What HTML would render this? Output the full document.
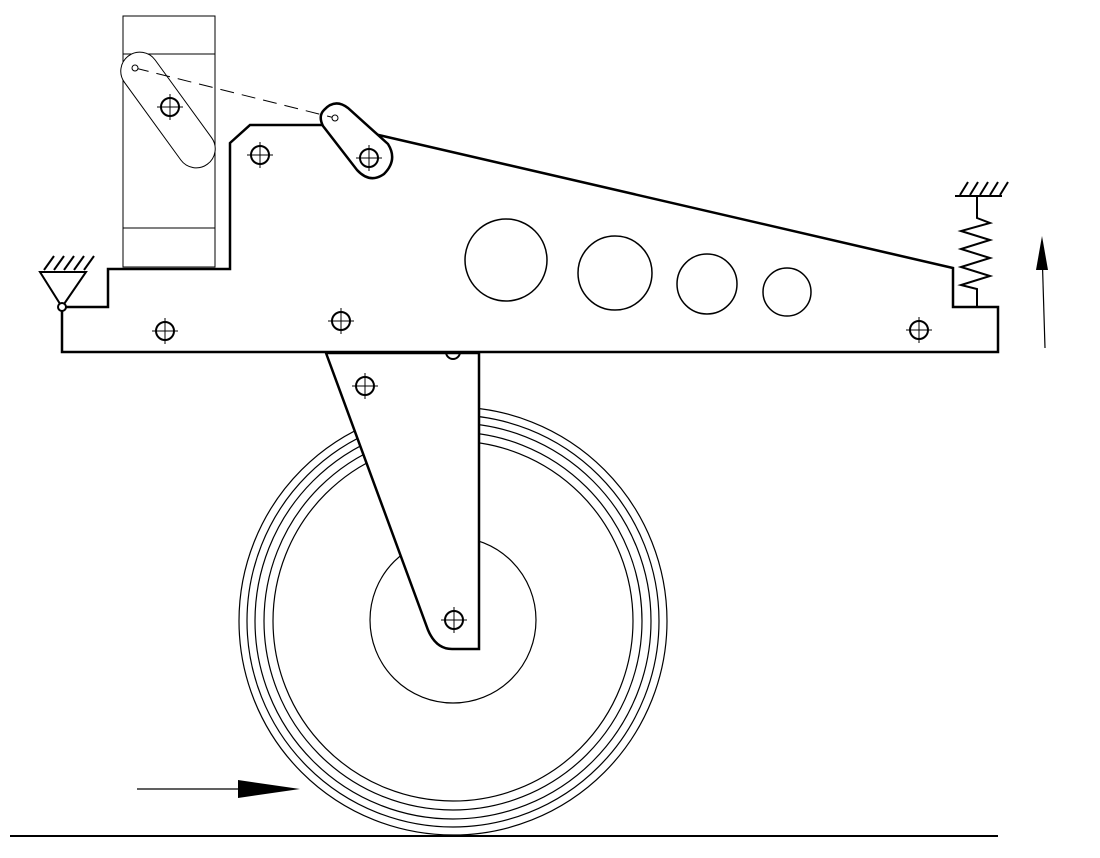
<!DOCTYPE html>
<html><head><style>body{margin:0;background:#fff}svg{display:block}</style></head><body>
<svg width="1100" height="858" viewBox="0 0 1100 858" xmlns="http://www.w3.org/2000/svg" fill="none" stroke="#000">
<defs>
<g id="h"><circle r="9" stroke-width="2"/><path d="M-13 0H13M0 -13V13" stroke-width="1"/></g>
</defs>
<g stroke-width="1.2">
<circle cx="453" cy="621" r="214"/>
<circle cx="453" cy="621" r="206"/>
<circle cx="453" cy="621" r="198"/>
<circle cx="453" cy="621" r="189"/>
<circle cx="453" cy="621" r="180"/>
<circle cx="453" cy="620" r="83"/>
</g>
<line x1="10" y1="836" x2="998" y2="836" stroke-width="2"/>
<path d="M326 353 L428 630 Q436 649 452 649 L479 649 L479 353 Z" fill="#fff" stroke-width="2.5"/>
<g stroke-width="1"><rect x="123" y="16" width="92" height="251"/><line x1="123" y1="54" x2="215" y2="54"/><line x1="123" y1="228" x2="215" y2="228"/></g>
<path d="M62 307 L62 352 L998 352 L998 307 L953 307 L953 268 L370 133 M322 125 L250 125 L230 143 L230 269 L108 269 L108 307 L62 307" stroke-width="2.5"/>
<g stroke-width="1.5">
<circle cx="506" cy="260" r="41"/><circle cx="615" cy="273" r="37"/><circle cx="707" cy="284" r="30"/><circle cx="787" cy="292" r="24"/>
</g>
<path d="M446 352 A7 7 0 0 0 460 352" stroke-width="2"/>
<rect x="101" y="91" width="134" height="38" rx="19" transform="rotate(54 168 110)" stroke-width="1" fill="#fff"/>
<path d="M324 110 Q335 98 348 108 L388 144 Q398 160 384 174 Q370 184 357 170 L323 126 Q318 116 324 110 Z" fill="#fff" stroke-width="2.5"/>
<line x1="135" y1="68" x2="335" y2="118" stroke-width="1" stroke-dasharray="14,8"/>
<circle cx="135" cy="68" r="3" fill="#fff" stroke-width="1"/>
<circle cx="335" cy="118" r="3" fill="#fff" stroke-width="1"/>
<use href="#h" x="165" y="331"/><use href="#h" x="341" y="321"/><use href="#h" x="919" y="330"/>
<use href="#h" x="260" y="155"/><use href="#h" x="369" y="158"/><use href="#h" x="365" y="386"/>
<use href="#h" x="454" y="620"/><use href="#h" x="170" y="107"/>
<g stroke-width="2">
<path d="M40 272 L86 272 L62 307 Z"/>
<path d="M44 270 L54 256 M54 270 L64 256 M64 270 L74 256 M74 270 L84 256 M84 270 L94 256"/>
<circle cx="62" cy="307" r="4" fill="#fff"/>
</g>
<g stroke-width="2">
<line x1="955" y1="196" x2="1002" y2="196"/>
<path d="M960 195 L968 182 M970 195 L978 182 M980 195 L988 182 M990 195 L998 182 M1000 195 L1008 182"/>
<path d="M977 196 L977 218 L990 223 L961 231 L990 240 L961 249 L990 258 L961 267 L990 276 L961 285 L977 289 L977 307"/>
</g>
<line x1="1045" y1="348" x2="1042" y2="250" stroke-width="1.2"/>
<path d="M1042 236 L1048 270 L1036 270 Z" fill="#000" stroke="none"/>
<line x1="137" y1="789" x2="240" y2="789" stroke-width="1.2"/>
<path d="M300 789 L238 780 L238 798 Z" fill="#000" stroke="none"/>
</svg>
</body></html>
